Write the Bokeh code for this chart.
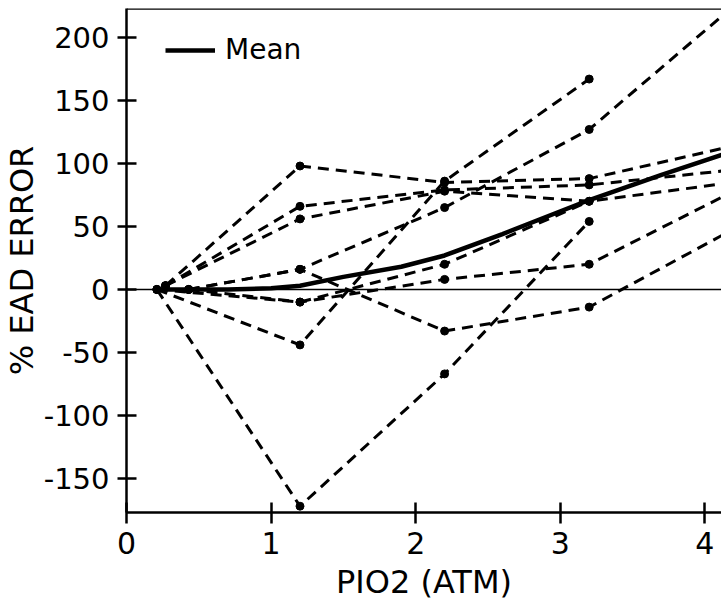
from bokeh.plotting import figure
from bokeh.models import (Range1d, FixedTicker, Span, Legend, LegendItem, Title)
from bokeh.embed import file_html
from bokeh.resources import INLINE

# Axis ticks and their labels
PIO2_TICKS = [0, 1, 2, 3, 4]
ERROR_TICKS = [-150, -100, -50, 0, 50, 100, 150, 200]
ERROR_LABELS = ["-150", "-100", "-50", "0", "50", "100", "150", "200"]

# Individual subjects: inspired O2 pressure (ATM) vs % EAD error
subj1_x = [0.27, 1.2, 2.2, 3.2, 4.2]
subj1_y = [3, 98, 85, 88, 114]
subj2_x = [0.27, 1.2, 2.2, 3.2, 4.2]
subj2_y = [3, 66, 79, 83, 95]
subj3_x = [0.27, 1.2, 2.2, 3.2, 4.2]
subj3_y = [3, 56, 78, 70, 85]
subj4_x = [0.43, 1.2, 2.2, 3.2, 4.2]
subj4_y = [0, 16, 65, 127, 225]
subj5_x = [0.43, 1.2, 2.2, 3.2, 4.2]
subj5_y = [0, 16, -33, -14, 48]
subj6_x = [0.43, 1.2, 2.2, 3.2, 4.2]
subj6_y = [0, -10, 8, 20, 78]
subj7_x = [0.21, 1.2, 2.2, 3.2]
subj7_y = [0, -44, 86, 167]
subj8_x = [0.21, 1.2, 2.2, 3.2]
subj8_y = [0, -172, -67, 54]
subj9_x = [0.21, 1.2, 2.2, 3.2]
subj9_y = [0, -10, 20, 70]

# Group mean curve
mean_x = [0.21, 0.7, 1.0, 1.2, 1.5, 1.9, 2.2, 2.6, 3.2, 3.7, 4.2]
mean_y = [0, 0, 1, 3, 10, 18, 27, 44, 71, 91, 110]

subjects = [
    (subj1_x, subj1_y), (subj2_x, subj2_y), (subj3_x, subj3_y),
    (subj4_x, subj4_y), (subj5_x, subj5_y), (subj6_x, subj6_y),
    (subj7_x, subj7_y), (subj8_x, subj8_y), (subj9_x, subj9_y),
]

FONT = "DejaVu Sans"

p = figure(width=721, height=606, output_backend="svg", toolbar_location=None,
           x_range=Range1d(0, 4.115), y_range=Range1d(-177, 223),
           min_border_left=126, min_border_right=0, min_border_top=8,
           min_border_bottom=94)
p.title.visible = False
p.outline_line_color = None
p.grid.visible = False
p.background_fill_color = "white"
p.border_fill_color = "white"

# zero reference and top frame edge
p.add_layout(Span(location=0, dimension="width", line_color="black", line_width=1.6))
p.add_layout(Span(location=223, dimension="width", line_color="black", line_width=2.5))

for xs, ys in subjects:
    p.line(xs, ys, line_color="black", line_width=3, line_dash="11 7")
    p.scatter(xs, ys, size=8, color="black")

mean_r = p.line(mean_x, mean_y, line_color="black", line_width=4.5)

legend = Legend(items=[LegendItem(label="Mean", renderers=[mean_r])],
                location=(39, 446), glyph_width=50, glyph_height=30,
                label_standoff=10, label_text_font=FONT,
                label_text_color="black",
                label_text_font_size="28px", padding=0, margin=0,
                border_line_color=None, background_fill_alpha=0)
p.add_layout(legend)

for ax in (p.xaxis[0], p.yaxis[0]):
    ax.axis_line_width = 2.5
    ax.major_tick_line_width = 2.5
    ax.minor_tick_line_color = None
    ax.major_tick_in = 10
    ax.major_label_text_font = FONT
    ax.major_label_text_color = "black"
    ax.axis_label_text_font = FONT
    ax.axis_label_text_font_style = "normal"
    ax.axis_label_text_color = "black"

p.xaxis.ticker = FixedTicker(ticks=PIO2_TICKS)
p.xaxis.major_tick_out = 11
p.xaxis.major_label_text_font_size = "30px"
p.xaxis.axis_label = "PIO2 (ATM)"
p.xaxis.axis_label_text_font_size = "32px"
p.xaxis.major_label_standoff = 8
p.xaxis.axis_label_standoff = 6

p.yaxis.ticker = FixedTicker(ticks=ERROR_TICKS)
p.yaxis.major_label_overrides = dict(zip(ERROR_TICKS, ERROR_LABELS))
p.yaxis.major_tick_out = 9
p.yaxis.major_label_text_font_size = "29px"
p.yaxis.major_label_standoff = 8

# vertical y-axis title in its own left panel
p.add_layout(Title(text="% EAD ERROR", align="center", text_font=FONT,
                   text_font_size="32px", text_font_style="normal",
                   text_color="black", standoff=0, offset=0), "left")

open("out.html", "w").write(file_html(p, INLINE))
